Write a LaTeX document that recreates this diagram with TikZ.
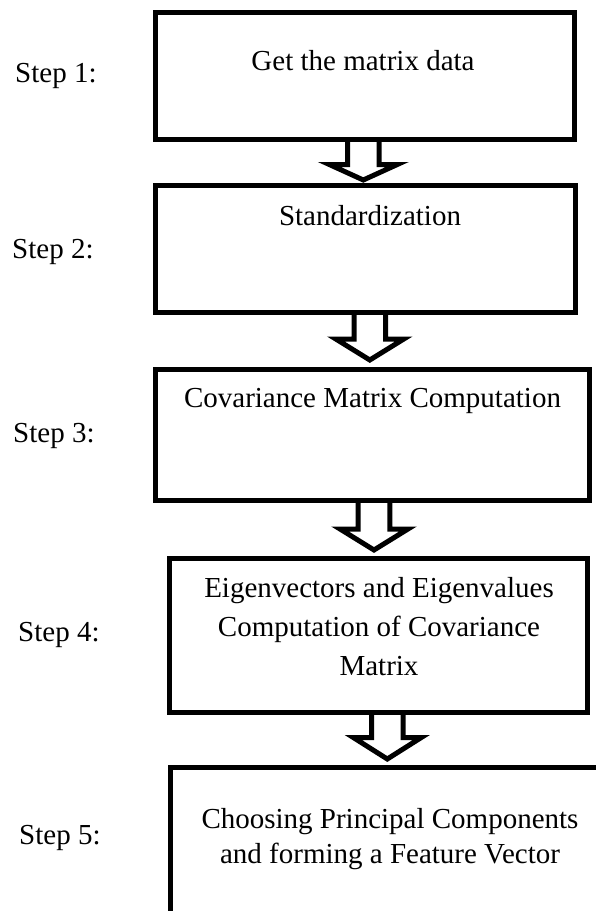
\documentclass[tikz,border=0pt]{standalone}
\usepackage{fontspec}
\setmainfont{Liberation Serif}
\usetikzlibrary{calc}

% hollow block arrow from the bottom of one box to the top of the next
% #1 upper box, #2 lower box, #3 x of the arrow axis,
% #4 head base above the lower box, #5 gap between tip and lower box
\newcommand\blockarr[5]{%
  \draw[blockarrow] let \p1=(#1.south), \p2=(#2.north) in
    ({(#3-15.8)*1pt},\y1) -- ({(#3-15.8)*1pt},{\y2+#4*1pt})
    -- ({(#3-34)*1pt},{\y2+#4*1pt}) -- ({#3*1pt},{\y2+#5*1pt})
    -- ({(#3+34)*1pt},{\y2+#4*1pt}) -- ({(#3+15.8)*1pt},{\y2+#4*1pt})
    -- ({(#3+15.8)*1pt},\y1);}

\tikzset{
  stepbox/.style={draw, line width=5pt, inner sep=0pt, outer sep=0pt,
    rectangle},
  blockarrow/.style={draw, line width=5pt, line join=miter},
  % multi-line texts are placed by the baseline of their last line
  boxtext/.style={anchor=base, align=center, inner sep=0pt,
    font=\fontsize{29}{39}\selectfont},
  steplabel/.style={anchor=base west, inner sep=0pt,
    font=\fontsize{29}{35}\selectfont},
}

\begin{document}
\begin{tikzpicture}[x=1pt, y=-1pt]
  \useasboundingbox (0,0) rectangle (596,911);

  % process boxes
  \node[stepbox, minimum width=419pt, minimum height=127pt] (b1) at (365,76) {};
  \node[stepbox, minimum width=420pt, minimum height=127pt] (b2) at (365.5,249) {};
  \node[stepbox, minimum width=434pt, minimum height=131pt] (b3) at (372.5,435) {};
  \node[stepbox, minimum width=418pt, minimum height=154pt] (b4) at (378.5,635.5) {};
  \node[stepbox, minimum width=449.5pt, minimum height=172.5pt] (b5) at (395.25,853.75) {};

  % box texts
  \node[boxtext] (t1) at (363,70) {Get the matrix data};
  \node[boxtext] (t2) at (370,225) {Standardization};
  \node[boxtext] (t3) at (372.5,407) {Covariance Matrix Computation};
  \node[boxtext] (t4) at (379,675) {Eigenvectors and Eigenvalues\\Computation of Covariance\\Matrix};
  \node[boxtext, font=\fontsize{29}{35}\selectfont] (t5) at (390,863)
    {Choosing Principal Components\\and forming a Feature Vector};

  % step labels
  \node[steplabel] (s1) at (15,82) {Step 1:};
  \node[steplabel] (s2) at (12,258) {Step 2:};
  \node[steplabel] (s3) at (13,442) {Step 3:};
  \node[steplabel] (s4) at (18,641) {Step 4:};
  \node[steplabel] (s5) at (19,844) {Step 5:};

  % arrows between the boxes
  \blockarr{b1}{b2}{363.3}{21}{5.5}
  \blockarr{b2}{b3}{369.8}{30.5}{9.5}
  \blockarr{b3}{b4}{374}{29.5}{8.5}
  \blockarr{b4}{b5}{387.3}{30}{8.5}
\end{tikzpicture}
\end{document}
